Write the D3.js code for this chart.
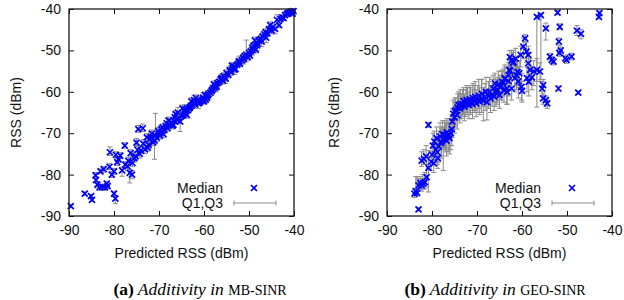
<!DOCTYPE html>
<html><head><meta charset="utf-8">
<script src="https://cdn.jsdelivr.net/npm/d3@7"></script>
<style>body{margin:0;background:#fff} svg{display:block}</style>
</head><body>
<svg id="c" width="624" height="300"></svg>
<script>
const xTicks = [-90,-80,-70,-60,-50,-40];
const yTicks = [-90,-80,-70,-60,-50,-40];
const legendLabels = ["Median", "Q1,Q3"];
const axisXLabel = "Predicted RSS (dBm)";
const axisYLabel = "RSS (dBm)";

// (a) MB-SINR
const mbPred = [
-89.6,-86.5,-85.1,-84.9,-84.1,-84.0,-83.7,-83.2,-83.0,-82.6,
-82.3,-82.0,-81.6,-81.4,-81.0,-80.9,-80.5,-80.0,-79.7,-80.0,
-79.6,-79.3,-79.0,-78.6,-78.2,-77.6,-77.5,-77.0,-76.8,-76.5,
-76.0,-75.9,-75.5,-75.2,-75.0,-74.6,-74.3,-74.0,-73.6,-73.5,
-73.1,-72.7,-72.3,-72.0,-71.6,-71.3,-71.0,-70.8,-70.5,-70.2,
-69.8,-69.5,-69.2,-68.8,-68.5,-68.1,-67.7,-67.3,-67.0,-66.6,
-66.3,-66.0,-65.6,-65.3,-65.0,-64.6,-64.3,-64.0,-63.6,-63.3,
-63.0,-62.6,-62.3,-62.0,-61.6,-61.3,-61.0,-60.6,-60.3,-60.0,
-59.6,-59.3,-59.0,-58.6,-58.3,-58.0,-57.6,-57.3,-57.0,-56.6,
-56.3,-56.0,-55.6,-55.3,-55.0,-54.6,-54.3,-54.0,-53.6,-53.3,
-53.0,-52.6,-52.3,-52.0,-51.6,-51.3,-51.0,-50.6,-50.3,-50.0,
-49.6,-49.3,-49.0,-48.7,-48.5,-48.1,-47.8,-47.4,-47.0,-46.6,
-46.3,-45.9,-45.6,-45.3,-45.0,-44.7,-43.3,-43.0,-42.6,-42.3,
-42.0,-41.6,-41.3,-41.0,-40.6,-40.3,-40.1,-69.0,-67.8,-66.8,
-64.8,-63.8,-62.8,-61.8,-59.8,-57.8,-55.8,-53.8,-49.8,-74.8,
-76.3,-72.5,
-71.8,-70.0,-68.3,-66.5,-65.8,-64.2,-63.2,-62.2,-61.2,-60.2,
-59.2,-58.2,-57.2,-56.2,-55.2,-54.2,-53.2,-52.2,-51.2,-49.2,
-48.2,-47.2,-46.2,-44.2,-43.8];
const mbMedian = [
-87.6,-84.6,-85.2,-86.1,-80.2,-81.3,-82.4,-83.1,-79.2,-83.0,
-78.7,-83.1,-82.2,-82.8,-78.1,-74.6,-80.0,-84.6,-85.8,-79.2,
-75.2,-77.0,-76.3,-75.4,-79.0,-73.0,-77.6,-78.0,-76.7,-79.6,
-80.0,-77.2,-76.0,-75.6,-72.3,-69.0,-75.0,-74.2,-68.8,-72.5,
-73.9,-71.0,-72.8,-71.4,-70.1,-72.2,-71.8,-70.6,-71.1,-69.5,
-70.6,-69.0,-68.6,-69.2,-68.3,-68.8,-68.0,-67.4,-68.2,-67.0,
-65.4,-66.8,-66.3,-67.2,-65.9,-65.6,-64.8,-65.3,-64.4,-64.0,
-63.6,-63.3,-62.7,-63.0,-62.4,-62.1,-62.6,-62.2,-61.8,-62.3,
-61.9,-61.4,-60.6,-60.2,-59.8,-59.2,-59.0,-58.5,-57.9,-57.6,
-57.0,-56.7,-56.2,-56.6,-55.5,-55.9,-54.8,-55.2,-54.3,-53.9,
-54.5,-53.4,-52.9,-53.2,-52.4,-51.8,-51.4,-51.0,-51.6,-50.6,
-50.2,-49.4,-48.9,-47.6,-49.8,-48.3,-47.6,-47.2,-46.6,-46.1,
-45.6,-45.9,-44.9,-43.9,-45.2,-44.4,-43.9,-42.4,-42.0,-42.2,
-41.5,-41.2,-41.0,-40.8,-40.6,-41.1,-40.5,-70.2,-66.9,-68.0,
-64.0,-65.6,-62.3,-61.5,-60.8,-58.2,-57.3,-53.7,-51.2,-74.0,
-74.8,-73.5,
-70.9,-70.1,-67.6,-66.1,-65.0,-64.3,-63.9,-62.0,-62.8,-61.4,
-60.9,-59.6,-58.8,-56.9,-56.8,-54.9,-54.6,-52.6,-52.1,-49.9,
-48.8,-47.9,-46.9,-44.8,-42.6];
const mbQ1 = [
-88.0,-85.0,-85.6,-86.5,-81.0,-82.0,-83.2,-83.8,-79.8,-83.6,
-79.4,-83.8,-82.9,-83.4,-78.8,-75.4,-80.7,-85.2,-87.0,-79.9,
-75.9,-77.8,-77.0,-76.1,-80.4,-73.6,-78.3,-79.0,-77.5,-82.0,
-81.0,-78.0,-77.0,-76.5,-73.2,-69.8,-76.0,-75.0,-69.6,-73.4,
-74.9,-72.0,-73.6,-72.2,-71.0,-73.0,-76.3,-71.5,-72.0,-70.3,
-71.4,-69.8,-69.4,-70.0,-69.0,-69.5,-68.8,-68.2,-69.0,-67.8,
-66.2,-67.6,-67.1,-69.6,-66.7,-66.4,-65.6,-66.0,-65.2,-64.8,
-64.4,-64.0,-63.5,-63.8,-63.2,-62.9,-63.3,-62.9,-62.6,-63.0,
-62.6,-62.2,-61.4,-61.0,-60.5,-60.0,-59.8,-59.3,-58.7,-58.4,
-57.8,-57.5,-57.0,-57.4,-56.3,-56.7,-55.6,-56.0,-55.1,-54.7,
-55.3,-54.2,-53.7,-54.0,-53.2,-52.6,-52.2,-52.8,-52.4,-51.4,
-51.0,-50.2,-49.7,-48.4,-50.6,-49.1,-48.4,-48.0,-47.4,-46.9,
-46.4,-46.7,-45.7,-44.7,-46.0,-45.2,-44.5,-43.0,-42.6,-42.8,
-42.1,-41.8,-41.6,-41.4,-41.2,-41.7,-41.1,-71.0,-67.7,-68.8,
-64.8,-66.4,-63.0,-62.3,-61.6,-59.0,-58.1,-54.5,-52.0,-75.0,
-76.0,-74.3,
-72.1,-71.3,-68.8,-67.3,-66.2,-65.5,-65.1,-63.2,-64.0,-62.6,
-62.1,-60.8,-60.0,-58.1,-58.0,-56.1,-55.8,-53.8,-53.3,-51.1,
-50.0,-49.1,-48.1,-46.0,-43.8];
const mbQ3 = [
-87.2,-84.2,-84.8,-85.7,-79.5,-80.6,-81.8,-82.4,-78.6,-82.3,
-78.0,-82.5,-81.6,-82.1,-77.4,-73.3,-79.3,-84.0,-85.2,-78.5,
-74.5,-76.2,-75.6,-74.7,-78.2,-72.3,-76.9,-77.0,-75.8,-78.8,
-79.0,-76.3,-75.0,-74.6,-71.3,-68.1,-74.0,-73.3,-67.8,-71.5,
-73.0,-70.1,-71.9,-70.5,-69.2,-71.2,-71.0,-65.2,-70.3,-68.6,
-69.8,-68.2,-67.8,-68.4,-67.5,-66.5,-67.2,-66.6,-67.4,-66.2,
-64.6,-66.0,-65.5,-66.4,-65.1,-64.8,-64.0,-64.5,-63.6,-63.2,
-62.8,-62.5,-62.0,-62.2,-61.6,-61.4,-61.8,-61.4,-61.1,-61.5,
-61.2,-60.6,-59.8,-59.4,-59.0,-58.4,-58.2,-57.7,-57.1,-56.8,
-56.2,-55.9,-55.4,-55.8,-54.7,-55.1,-54.0,-54.4,-53.5,-53.1,
-53.7,-52.6,-52.1,-52.4,-51.6,-51.0,-50.6,-47.5,-50.8,-49.8,
-49.4,-48.6,-48.1,-46.8,-49.0,-47.5,-46.8,-46.4,-45.8,-45.3,
-44.8,-45.1,-44.1,-43.1,-44.4,-43.6,-43.3,-41.8,-41.4,-41.6,
-40.9,-40.6,-40.4,-40.2,-40.0,-40.5,-40.0,-69.3,-66.1,-67.2,
-63.2,-64.8,-61.5,-60.8,-60.0,-57.4,-56.5,-52.9,-50.4,-73.0,
-74.0,-72.5,
-69.7,-68.9,-66.4,-64.9,-63.8,-63.1,-62.7,-60.8,-61.6,-60.2,
-59.7,-58.4,-57.6,-55.7,-55.6,-53.7,-53.4,-51.4,-50.9,-48.7,
-47.6,-46.7,-45.7,-43.6,-41.4];

// (b) GEO-SINR
const geoPred = [
-83.0,-83.9,-83.6,-83.3,-83.0,-82.6,-82.3,-82.0,-81.6,-81.2,
-82.3,-81.8,-81.3,-80.8,-80.8,-80.2,-80.0,-79.6,-79.5,-79.2,
-79.0,-78.7,-78.5,-78.2,-78.0,-77.7,-77.5,-77.2,-77.0,-76.7,
-76.4,-76.1,-75.8,-75.5,-75.3,-75.0,-74.7,-74.4,-74.1,-73.8,
-73.5,-73.2,-72.8,-72.5,-72.1,-71.8,-71.4,-71.0,-70.6,-70.2,
-69.8,-69.4,-69.0,-68.6,-68.2,-67.8,-67.4,-67.0,-66.6,-66.2,
-65.8,-65.4,-65.0,-64.6,-64.2,-63.8,-63.4,-63.0,-62.7,-62.7,
-62.3,-61.9,-62.8,-62.3,-61.6,-61.2,-60.8,-60.3,-60.1,-60.0,
-59.7,-59.3,-59.0,-58.6,-58.9,-58.5,-58.6,-58.2,-57.4,-56.7,
-56.7,-55.8,-56.0,-55.3,-55.5,-55.3,-54.7,-54.4,-54.7,-52.1,
-51.6,-51.8,-51.4,-51.7,-53.8,-53.4,-53.0,-50.4,-50.1,-49.0,
-51.9,-47.5,-47.8,-46.9,-42.8,-42.9,-64.4,-63.8,-64.9,-65.6,
-66.0,-63.3,-61.0,-57.8,
-76.8,-76.2,-75.6,-74.9,-74.3,-73.7,-73.0,-72.3,-71.6,-70.9,
-70.4,-69.6,-68.9,-68.0,-67.2,-66.4,-65.2,-64.0,-63.0,-61.4,
-79.8,-78.8,-77.9,-62.0,-60.6];
const geoMedian = [
-88.4,-84.6,-84.0,-84.4,-82.6,-82.0,-82.6,-82.1,-81.8,-80.6,
-76.6,-76.2,-75.6,-78.4,-68.0,-76.9,-75.2,-77.3,-72.0,-74.0,
-71.2,-76.0,-73.2,-70.8,-72.4,-70.2,-71.5,-70.4,-71.0,-69.8,
-70.6,-71.2,-70.0,-67.2,-65.3,-66.2,-64.4,-65.6,-63.2,-64.0,
-63.5,-62.9,-63.6,-63.0,-62.6,-63.2,-62.4,-63.0,-62.2,-62.8,
-61.8,-62.4,-61.6,-62.2,-61.2,-62.5,-61.0,-61.6,-60.6,-61.2,
-60.2,-59.6,-60.8,-58.6,-57.8,-56.9,-59.2,-57.4,-55.0,-51.6,
-52.4,-52.8,-54.7,-59.2,-56.7,-56.0,-57.5,-51.1,-58.8,-59.8,
-49.1,-47.1,-50.3,-51.1,-56.7,-57.6,-53.1,-54.7,-55.1,-54.7,
-41.9,-41.5,-55.1,-58.4,-59.2,-61.6,-62.0,-62.8,-44.7,-40.9,
-44.3,-47.9,-50.0,-50.6,-51.5,-52.3,-52.7,-51.9,-52.3,-51.5,
-59.2,-60.2,-45.2,-46.0,-41.0,-41.9,-57.6,-56.7,-58.8,-59.6,
-58.0,-60.0,-55.2,-56.5,
-71.8,-70.5,-69.0,-64.8,-63.8,-63.0,-62.2,-62.0,-61.8,-61.5,
-61.2,-61.0,-60.5,-60.0,-60.0,-59.2,-58.2,-59.6,-56.0,-52.0,
-73.0,-74.6,-72.0,-53.0,-55.5];
const geoQ1 = [
-88.8,-85.5,-85.0,-85.2,-84.0,-83.5,-84.0,-83.5,-83.5,-83.0,
-78.0,-77.5,-77.5,-84.2,-68.6,-79.0,-77.5,-79.5,-75.0,-77.0,
-74.0,-78.5,-77.0,-74.0,-76.0,-73.5,-79.0,-74.0,-74.5,-73.5,
-74.5,-75.0,-74.0,-71.0,-69.0,-70.0,-68.0,-69.0,-66.5,-67.5,
-66.5,-66.0,-67.0,-66.0,-65.5,-66.5,-65.5,-66.5,-65.0,-66.0,
-65.0,-65.5,-65.0,-67.0,-64.5,-66.8,-64.0,-65.0,-63.5,-64.5,
-63.5,-62.5,-64.0,-62.0,-61.0,-60.5,-63.0,-61.0,-58.5,-54.0,
-56.0,-56.0,-58.0,-62.0,-60.0,-59.5,-61.5,-54.0,-62.0,-62.5,
-52.0,-48.0,-53.0,-54.0,-60.0,-61.0,-56.5,-58.0,-58.5,-57.5,
-63.7,-57.0,-57.5,-60.0,-61.0,-63.0,-63.5,-64.0,-47.5,-41.4,
-45.0,-48.8,-50.8,-51.4,-52.3,-53.1,-53.5,-52.7,-53.1,-52.3,
-59.8,-60.6,-46.4,-47.2,-41.5,-42.4,-61.0,-60.0,-62.0,-63.0,
-61.5,-63.0,-58.5,-59.5,
-75.5,-74.0,-73.0,-68.5,-67.0,-66.5,-65.5,-65.0,-65.0,-64.5,
-64.5,-64.0,-63.5,-63.5,-63.0,-62.5,-61.5,-62.5,-59.5,-55.0,
-76.0,-77.5,-75.5,-56.0,-59.0];
const geoQ3 = [
-88.0,-83.5,-80.5,-80.5,-81.0,-80.5,-81.0,-80.0,-79.5,-77.5,
-74.5,-74.0,-73.0,-74.2,-67.4,-74.5,-72.5,-75.0,-69.5,-71.5,
-68.5,-73.5,-69.5,-67.5,-68.5,-67.0,-68.5,-67.0,-67.5,-66.5,
-67.5,-67.5,-66.5,-64.0,-62.0,-62.5,-61.5,-62.5,-60.0,-60.5,
-60.5,-59.5,-60.5,-59.5,-59.0,-60.0,-59.0,-59.5,-58.5,-59.5,
-58.5,-59.0,-57.0,-59.0,-58.0,-59.5,-57.5,-58.5,-57.0,-58.0,
-57.0,-56.5,-57.5,-55.0,-54.5,-53.5,-56.0,-54.0,-52.5,-50.0,
-50.0,-50.0,-52.0,-56.5,-53.5,-52.5,-54.0,-49.0,-55.5,-57.5,
-47.0,-46.2,-48.0,-49.0,-54.0,-55.0,-50.5,-52.0,-52.5,-52.0,
-41.5,-41.0,-53.0,-57.0,-57.5,-60.5,-61.0,-62.0,-43.4,-40.4,
-43.6,-47.0,-49.2,-49.8,-50.7,-51.5,-51.9,-51.1,-51.5,-50.7,
-58.6,-59.8,-44.0,-45.0,-40.5,-41.4,-55.0,-54.0,-56.0,-57.0,
-55.5,-57.5,-52.5,-54.0,
-68.0,-67.0,-65.5,-61.5,-60.5,-59.5,-59.0,-58.5,-58.5,-58.0,
-57.5,-57.0,-57.0,-56.5,-56.5,-56.0,-55.0,-56.5,-53.0,-49.5,
-70.0,-71.5,-69.0,-50.5,-52.5];

const svg = d3.select("#c");
const FONT = "'Liberation Sans', Arial, Helvetica, sans-serif";
const SERIF = "'Liberation Serif', 'Times New Roman', serif";
const BLUE = "#0000ff";
const GRAY = "#8a8a8a";
const crossPath = "M-3,-3L3,3M-3,3L3,-3";

function panel(x0, pred, med, q1, q3, capX, capLetter, capItalic, capSC) {
  const x = d3.scaleLinear().domain([-90, -40]).range([x0, x0 + 225]);
  const y = d3.scaleLinear().domain([-90, -40]).range([216, 9]);
  const g = svg.append("g");
  const fmt = d => String(d);

  const styleAxis = sel => {
    sel.select(".domain").remove();
    sel.selectAll(".tick line").attr("stroke", "#111").attr("stroke-width", 1);
    sel.selectAll(".tick text").attr("fill", "#111").style("font-family", FONT).style("font-size", "14px");
  };

  g.append("g").attr("transform", "translate(0,216)")
    .call(d3.axisBottom(x).tickValues(xTicks).tickSizeInner(-5).tickSizeOuter(0).tickPadding(9).tickFormat(fmt))
    .call(styleAxis);
  g.append("g").attr("transform", "translate(0,9)")
    .call(d3.axisTop(x).tickValues(xTicks).tickSizeInner(-5).tickSizeOuter(0).tickFormat(""))
    .call(styleAxis);
  g.append("g").attr("transform", `translate(${x0},0)`)
    .call(d3.axisLeft(y).tickValues(yTicks).tickSizeInner(-5).tickSizeOuter(0).tickPadding(8).tickFormat(fmt))
    .call(styleAxis);
  g.append("g").attr("transform", `translate(${x0 + 225},0)`)
    .call(d3.axisRight(y).tickValues(yTicks).tickSizeInner(-5).tickSizeOuter(0).tickFormat(""))
    .call(styleAxis);

  const idx = d3.range(pred.length);
  const eb = g.append("g").attr("stroke", GRAY).attr("stroke-width", 1).attr("fill", "none");
  eb.selectAll("path").data(idx).join("path")
    .attr("d", i => {
      const xx = x(pred[i]), a = y(q1[i]), b = y(q3[i]);
      return `M${xx},${a}V${b}M${xx - 2.5},${a}H${xx + 2.5}M${xx - 2.5},${b}H${xx + 2.5}`;
    });
  const mk = g.append("g").attr("stroke", BLUE).attr("stroke-width", 1.7).attr("fill", "none");
  mk.selectAll("path").data(idx).join("path")
    .attr("transform", i => `translate(${x(pred[i])},${y(med[i])})`)
    .attr("d", crossPath);

  g.append("rect").attr("x", x0).attr("y", 9).attr("width", 225).attr("height", 207)
    .attr("fill", "none").attr("stroke", "#1a1a1a").attr("stroke-width", 1.3);

  const lx = x0 + 154;
  g.append("text").attr("x", lx).attr("y", 193).attr("text-anchor", "end")
    .style("font-family", FONT).style("font-size", "14px").attr("fill", "#111").text(legendLabels[0]);
  g.append("path").attr("transform", `translate(${x0 + 185},188)`).attr("d", crossPath)
    .attr("stroke", BLUE).attr("stroke-width", 1.7).attr("fill", "none");
  g.append("text").attr("x", lx).attr("y", 208).attr("text-anchor", "end")
    .style("font-family", FONT).style("font-size", "14px").attr("fill", "#111").text(legendLabels[1]);
  const bx1 = x0 + 165, bx2 = x0 + 207;
  g.append("path").attr("d", `M${bx1},203H${bx2}M${bx1},200.5V205.5M${bx2},200.5V205.5`)
    .attr("stroke", GRAY).attr("stroke-width", 1).attr("fill", "none");

  g.append("text").attr("x", x0 + 112.5).attr("y", 258).attr("text-anchor", "middle")
    .style("font-family", FONT).style("font-size", "14px").attr("fill", "#111").text(axisXLabel);
  g.append("text").attr("transform", `translate(${x0 - 53},112.5) rotate(-90)`).attr("text-anchor", "middle")
    .attr("dy", "0.35em")
    .style("font-family", FONT).style("font-size", "14px").attr("fill", "#111").text(axisYLabel);

  const cap = g.append("text").attr("x", capX).attr("y", 295).attr("text-anchor", "middle")
    .style("font-family", SERIF).style("font-size", "17.5px").attr("fill", "#000");
  cap.append("tspan").style("font-weight", "bold").text(capLetter);
  cap.append("tspan").style("font-style", "italic").text(" " + capItalic + " ");
  cap.append("tspan").style("font-size", "14px").text(capSC);
}

panel(69, mbPred, mbMedian, mbQ1, mbQ3, 200, "(a)", "Additivity in", "MB-SINR");
panel(387, geoPred, geoMedian, geoQ1, geoQ3, 495, "(b)", "Additivity in", "GEO-SINR");
</script>
</body></html>
